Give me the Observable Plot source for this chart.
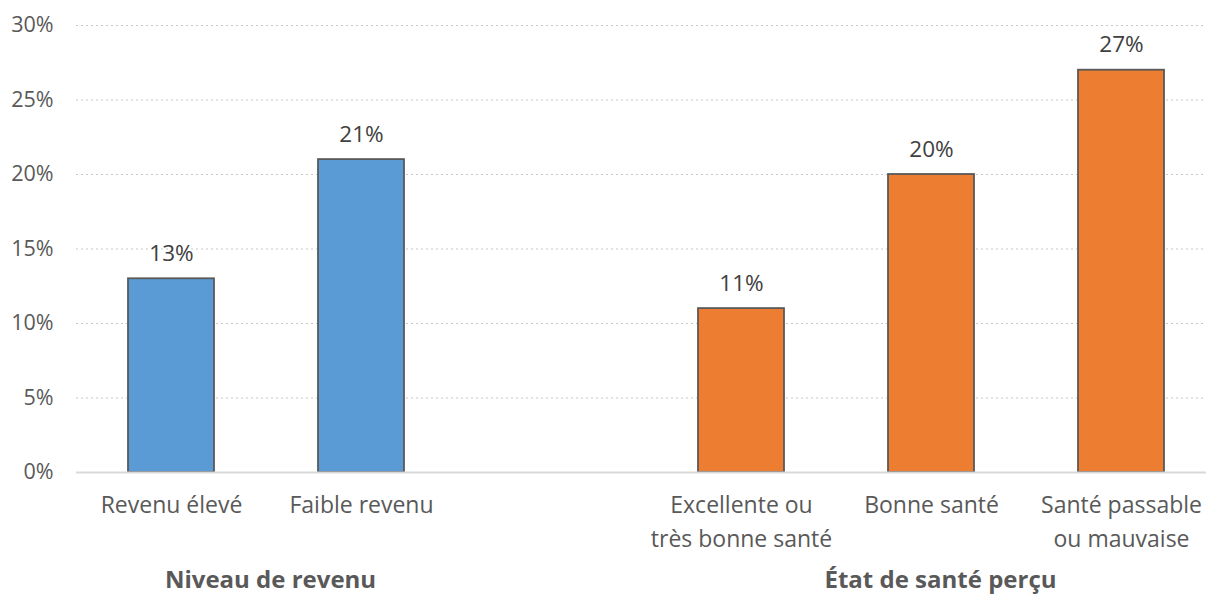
<!DOCTYPE html>
<html>
<head>
<meta charset="utf-8">
<script src="https://cdn.jsdelivr.net/npm/d3@7"></script>
<script src="https://cdn.jsdelivr.net/npm/@observablehq/plot@0.6"></script>
<style>
  html, body { margin: 0; padding: 0; background: #fff; }
  #chart svg { display: block; }
</style>
</head>
<body>
<div id="chart"></div>
<script>
// ---- data ----
const categories = ["Revenu élevé", "Faible revenu", " ", "Excellente ou\ntrès bonne santé", "Bonne santé", "Santé passable\nou mauvaise"];
const values = [13, 21, null, 11, 20, 27];
const groups = ["revenu", "revenu", null, "sante", "sante", "sante"];
const groupNames = ["Niveau de revenu", "État de santé perçu"];
const groupAnchors = ["Revenu élevé", "Bonne santé"]; // band used to place the group title
const yTicks = [0, 5, 10, 15, 20, 25, 30];

const bars = categories
  .map((c, i) => ({cat: c, value: values[i], group: groups[i]}))
  .filter(d => d.value != null);

const font = "'Open Sans', Lato, sans-serif";

const chart = Plot.plot({
  width: 1206,
  height: 594,
  marginLeft: 76,
  marginRight: 0,
  marginTop: 25,
  marginBottom: 122,
  style: {fontFamily: font, fontSize: "22px", color: "#595959", background: "#fff"},
  x: {domain: categories, range: [76, 1216], paddingInner: 0.547, paddingOuter: 0.2735, label: null},
  y: {domain: [0, 30], range: [472, 25], label: null},
  color: {domain: ["revenu", "sante"], range: ["#5B9BD5", "#ED7D31"]},
  marks: [
    Plot.ruleY(yTicks.filter(t => t > 0), {stroke: "#c8c8c8", strokeDasharray: "2,3", strokeWidth: 1.2}),
    Plot.barY(bars, {x: "cat", y: "value", fill: "group", stroke: "#595959", strokeWidth: 1.8}),
    Plot.ruleY([0], {stroke: "#d9d9d9", strokeWidth: 2}),
    Plot.text(bars, {x: "cat", y: "value", text: d => `${d.value}%`, lineAnchor: "bottom", dy: -18, fill: "#404040", fontSize: 22.5}),
    Plot.axisY({ticks: yTicks, tickFormat: d => `${d}%`, tickSize: 0, tickPadding: 23, fontSize: 21.5, fill: "#595959"}),
    Plot.axisX({tickSize: 0, tickPadding: 17, tickFormat: d => d.trim(), fontSize: 23, lineHeight: 1.45, fill: "#595959"}),
    Plot.text([groupNames[0]], {x: () => groupAnchors[0], frameAnchor: "bottom", dx: 99, dy: 115, text: d => d, fontWeight: "bold", fontSize: 24, fill: "#595959"}),
    Plot.text([groupNames[1]], {x: () => groupAnchors[1], frameAnchor: "bottom", dx: 9, dy: 115, text: d => d, fontWeight: "bold", fontSize: 24, fill: "#595959"})
  ]
});

document.getElementById("chart").appendChild(chart);
</script>
</body>
</html>
